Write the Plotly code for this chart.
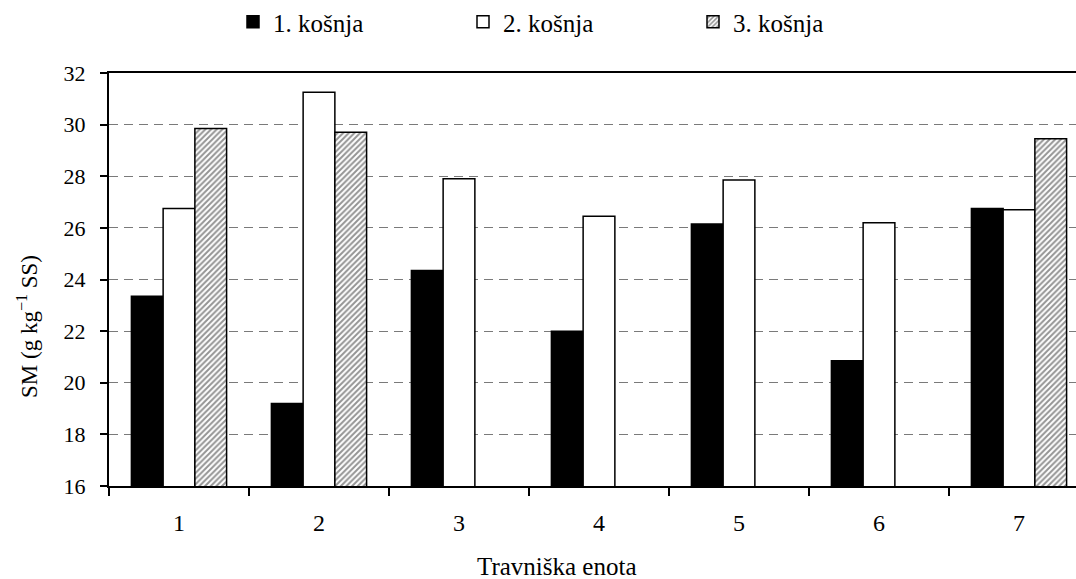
import plotly.graph_objects as go

categories = ["1", "2", "3", "4", "5", "6", "7"]
kosnja1 = [23.35, 19.2, 24.35, 22.0, 26.15, 20.85, 26.75]
kosnja2 = [26.75, 31.25, 27.9, 26.45, 27.85, 26.2, 26.7]
kosnja3 = [29.85, 29.7, None, None, None, None, 29.45]
series_names = ["1. košnja", "2. košnja", "3. košnja"]
y_ticks = [16, 18, 20, 22, 24, 26, 28, 30, 32]

FONT = "Liberation Serif, Times New Roman, serif"
W, H = 1076, 579
L, T, B = 109, 73, 93
plot_w = W - L
plot_h = H - T - B
cat_w = 140.0
x_max = -0.5 + plot_w / cat_w

fig = go.Figure()
fig.add_trace(go.Bar(x=categories, y=kosnja1, name=series_names[0],
                     marker=dict(color="black", line=dict(color="black", width=1.5))))
fig.add_trace(go.Bar(x=categories, y=kosnja2, name=series_names[1],
                     marker=dict(color="white", line=dict(color="black", width=1.5))))
fig.add_trace(go.Bar(x=categories, y=kosnja3, name=series_names[2],
                     marker=dict(color="white", line=dict(color="black", width=1.5),
                                 pattern=dict(shape="/", fgcolor="#2a2a2a", bgcolor="white",
                                              size=4, solidity=0.5))))

fig.update_layout(
    width=W, height=H,
    margin=dict(l=L, r=0, t=T, b=B, autoexpand=False),
    paper_bgcolor="white", plot_bgcolor="white",
    barmode="group", bargap=0.32, bargroupgap=0,
    font=dict(family=FONT, color="black", size=22),
    showlegend=True,
    legend=dict(orientation="h", xref="container", yref="container",
                x=233 / W, y=1 - 22 / H, xanchor="left", yanchor="middle",
                entrywidth=185, entrywidthmode="pixels",
                font=dict(family=FONT, size=25, color="black"),
                bgcolor="rgba(0,0,0,0)", borderwidth=0),
    xaxis=dict(type="category", range=[-0.5, x_max], automargin=False,
               showline=True, linecolor="black", linewidth=2, mirror=True,
               ticks="outside", ticklen=8, tickwidth=1.5, tickcolor="black",
               tickson="boundaries", showgrid=False,
               tickfont=dict(family=FONT, size=24, color="black"),
               ticklabelstandoff=14),
    yaxis=dict(range=[16, 32], tickvals=y_ticks, automargin=False,
               showline=True, linecolor="black", linewidth=2,
               ticks="outside", ticklen=7, tickwidth=1.5, tickcolor="black",
               showgrid=True, gridcolor="#7a7a7a", gridwidth=1.3, griddash="9px,6px",
               zeroline=False,
               tickfont=dict(family=FONT, size=22, color="black"),
               ticklabelstandoff=10),
    annotations=[
        dict(text="Travniška enota", xref="paper", yref="paper",
             x=(556 - L) / plot_w, y=-(566 - (H - B)) / plot_h,
             xanchor="center", yanchor="middle", showarrow=False,
             font=dict(family=FONT, size=25, color="black")),
        dict(text="SM (g kg<sup>−1</sup> SS)", xref="paper", yref="paper",
             x=-(L - 27) / plot_w, y=1 - (327 - T) / plot_h,
             xanchor="center", yanchor="middle", textangle=-90, showarrow=False,
             font=dict(family=FONT, size=23, color="black")),
    ],
)

fig.write_html("out.html", config={"displayModeBar": False},
               post_script="document.body.style.margin='0px';")
